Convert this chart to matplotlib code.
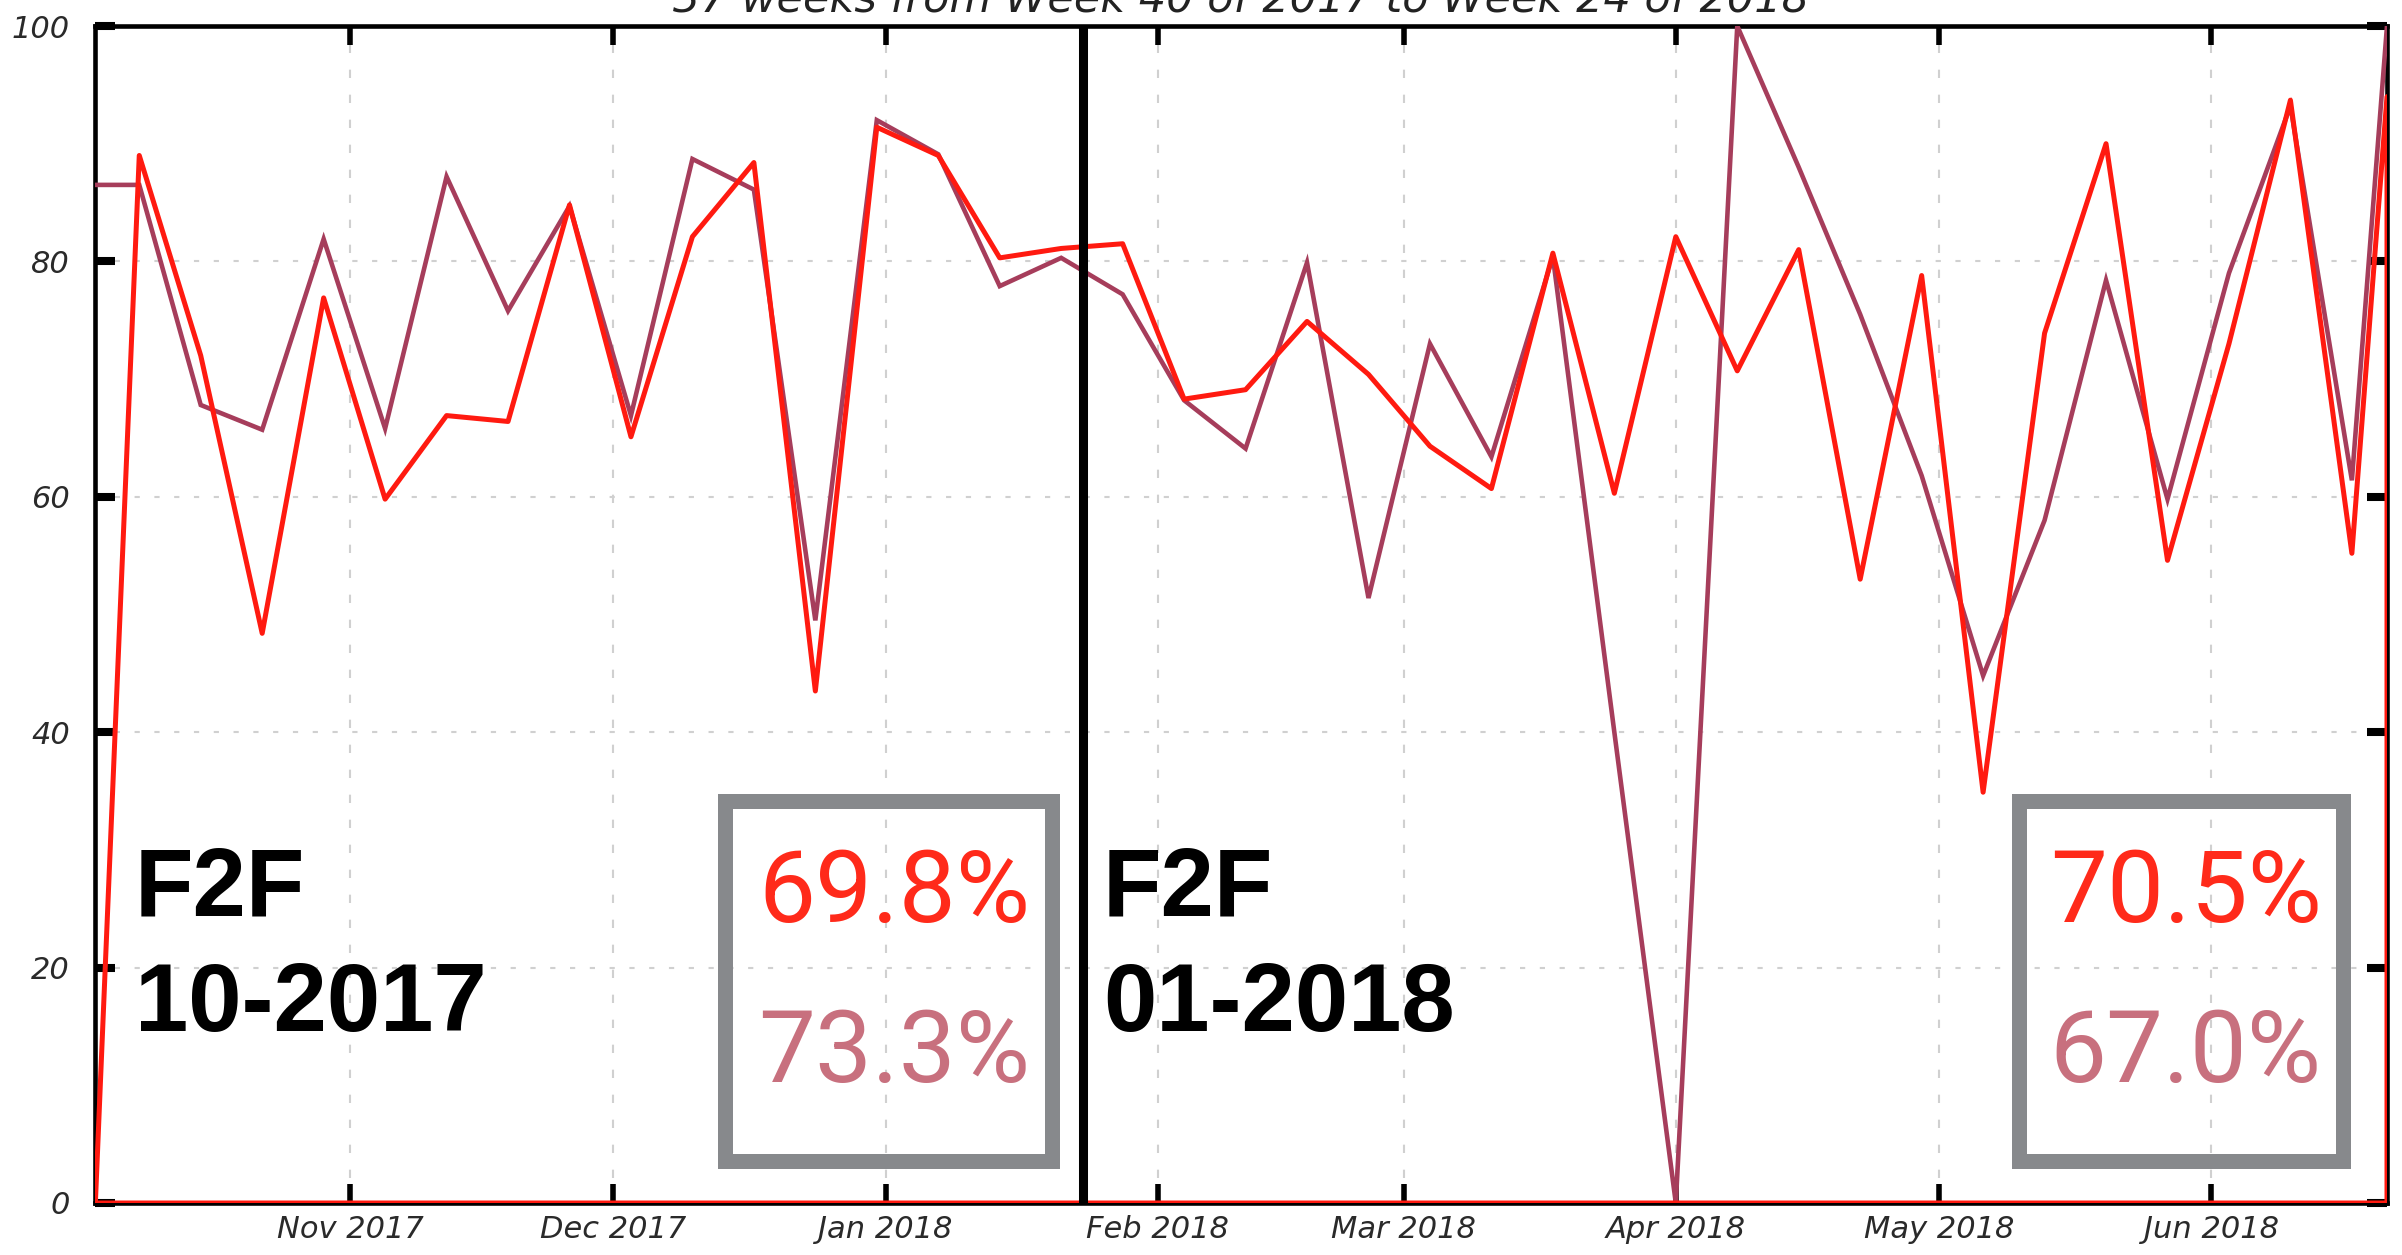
import matplotlib
matplotlib.use("Agg")
import matplotlib.pyplot as plt
import matplotlib.dates as mdates
from matplotlib.patches import Rectangle
import pandas as pd

# start of week 40, then weekly points (Sundays), then last day of data
week_dates = [
    "2017-10-03", "2017-10-08", "2017-10-15", "2017-10-22", "2017-10-29",
    "2017-11-05", "2017-11-12", "2017-11-19", "2017-11-26", "2017-12-03",
    "2017-12-10", "2017-12-17", "2017-12-24", "2017-12-31", "2018-01-07",
    "2018-01-14", "2018-01-21", "2018-01-28", "2018-02-04", "2018-02-11",
    "2018-02-18", "2018-02-25", "2018-03-04", "2018-03-11", "2018-03-18",
    "2018-03-25", "2018-04-01", "2018-04-08", "2018-04-15", "2018-04-22",
    "2018-04-29", "2018-05-06", "2018-05-13", "2018-05-20", "2018-05-27",
    "2018-06-03", "2018-06-10", "2018-06-17", "2018-06-21",
]
red_series = [
    0, 89, 72, 48.4, 76.9, 59.8, 66.9, 66.4, 84.8, 65.1,
    82.1, 88.4, 43.5, 91.4, 89.0, 80.3, 81.1, 81.5, 68.3, 69.1,
    74.9, 70.4, 64.3, 60.7, 80.7, 60.3, 82.1, 70.7, 81.0, 53.0,
    78.8, 34.9, 73.9, 90.0, 54.6, 73, 93.7, 55.2, 94,
]
rose_series = [
    86.5, 86.5, 67.8, 65.7, 81.9, 65.8, 87.2, 75.8, 84.7, 66.9,
    88.7, 86.1, 49.5, 92.0, 89.1, 77.9, 80.3, 77.2, 68.2, 64.1,
    79.9, 51.4, 73.0, 63.4, 80.4, 40, 0, 100, 88, 75.5,
    61.8, 44.8, 58, 78.4, 59.8, 79, 93.2, 61.4, 100,
]
x_start, x_end = "2017-10-02 23:00", "2018-06-21"
split_date = "2018-01-23 12:00"

title = "37 weeks from Week 40 of 2017 to Week 24 of 2018"
period_labels = [("F2F", "10-2017"), ("F2F", "01-2018")]
period_pcts = [("69.8%", "73.3%"), ("70.5%", "67.0%")]

RED = "#ff1a10"
ROSE = "#a63d5b"
RED_TXT = "#ff2a1a"
ROSE_TXT = "#c8707e"
BOX_GRAY = "#87898c"

W, H = 2402, 1255
plt.rcParams["font.family"] = ["DejaVu Sans"]
plt.rcParams["font.style"] = "italic"

fig = plt.figure(figsize=(W / 100, H / 100), dpi=100)
ax = fig.add_axes([95 / W, (H - 1203) / H, (2387 - 95) / W, (1203 - 26) / H])

dates = pd.to_datetime(week_dates)
ax.plot(dates, rose_series, color=ROSE, lw=3.3, zorder=3, solid_joinstyle="miter")
# red series drawn as an outlined area, like the source tool does
ax.fill_between(dates, 0, red_series, facecolor="none", edgecolor=RED,
                lw=3.6, zorder=4)
ax.axvline(pd.Timestamp(split_date), color="black", lw=6.5, zorder=5)

ax.set_xlim(pd.Timestamp(x_start), pd.Timestamp(x_end))
ax.set_ylim(0, 100)
ax.set_yticks([0, 20, 40, 60, 80, 100])
ax.xaxis.set_major_locator(mdates.MonthLocator())
ax.xaxis.set_major_formatter(mdates.DateFormatter("%b %Y"))

ax.tick_params(axis="x", direction="in", top=True, bottom=True, length=14,
               width=4, pad=9, labelsize=22, labelcolor="#2a2a2a")
ax.tick_params(axis="y", direction="in", left=True, right=True, length=14.4,
               width=5.8, pad=18, labelsize=22, labelcolor="#2a2a2a")
for s in ax.spines.values():
    s.set_linewidth(3.3)

ax.set_axisbelow(True)
ax.grid(True, axis="y", color="#d0d0d0", lw=1.5, linestyle=(0, (2.5, 7)))
ax.grid(True, axis="x", color="#d0d0d0", lw=1.5, linestyle=(0, (4, 8)))

fig.text(1241 / W, 1 - 12 / H, title, ha="center", va="baseline",
         fontsize=31, color="#222222")


def fx(x):
    return x / W


def fy(y):
    return 1 - y / H


# period annotations
for (line1, line2), x0 in zip(period_labels, [135, 1103]):
    for txt, base in [(line1, 915), (line2, 1031)]:
        fig.text(fx(x0), fy(base), txt, ha="left", va="baseline",
                 family="Liberation Sans", style="normal", weight="bold",
                 fontsize=69, color="black")

for (p1, p2), (bx, bw) in zip(period_pcts, [(725.5, 326), (2018.5, 324)]):
    fig.add_artist(Rectangle((fx(bx), fy(1161)), bw / W, 360 / H,
                             transform=fig.transFigure, facecolor="none",
                             edgecolor=BOX_GRAY, lw=10.8, joinstyle="miter"))
    right = bx + bw - 21
    fig.text(fx(right), fy(922), p1, ha="right", va="baseline",
             family="Roboto", style="normal", weight="normal",
             fontsize=73, color=RED_TXT)
    fig.text(fx(right), fy(1082), p2, ha="right", va="baseline",
             family="Roboto", style="normal", weight="normal",
             fontsize=73, color=ROSE_TXT)

fig.savefig("out.png", dpi=100)
